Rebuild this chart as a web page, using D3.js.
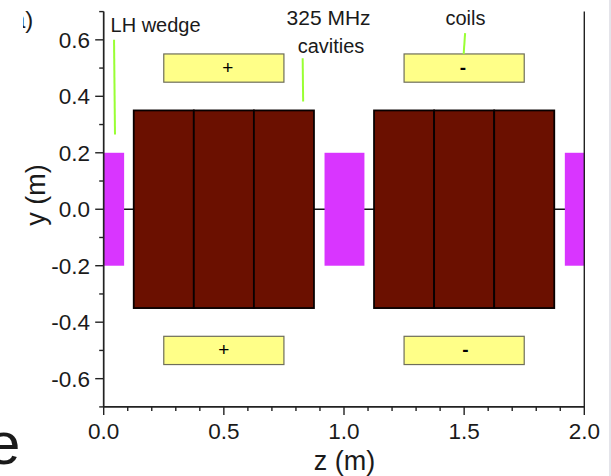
<!DOCTYPE html>
<html><head><meta charset="utf-8">
<script src="https://cdn.jsdelivr.net/npm/d3@7"></script>
<style>html,body{margin:0;padding:0;background:#fff;overflow:hidden}svg{display:block}text{font-family:"Liberation Sans",Arial,sans-serif;fill:#1a1a1a}</style>
</head><body><svg id="c" width="611" height="476"></svg>
<script>
const wedgeStart=[0,0.919,1.919], wedgeEnd=[0.085,1.085,2.0], wedgeHalfHeight=0.2;
const cavityStart=[0.125,0.375,0.625,1.125,1.375,1.625], cavityEnd=[0.375,0.625,0.875,1.375,1.625,1.875], cavityHalfHeight=0.35;
const coilStart=[0.25,1.25,0.25,1.25], coilEnd=[0.75,1.75,0.75,1.75], coilLow=[0.45,0.45,-0.55,-0.55], coilHigh=[0.55,0.55,-0.45,-0.45];
const coilSigns=["+","-","+","-"], coilSignZ=[0.516,1.495,0.5,1.505], coilSignY=[0.5,0.5,-0.5,-0.5];
const leaderZ1=[0.043,0.828,1.504], leaderZ2=[0.047,0.83,1.498], leaderY1=[0.6,0.535,0.624], leaderY2=[0.265,0.382,0.55];
const annotations=["LH wedge","325 MHz","cavities","coils"], annotationZ=[0.2158,0.9358,0.946,1.5055], annotationY=[0.626,0.651,0.555,0.651], annotationSize=[20,21,20,20];
const zTicks=[0,0.5,1,1.5,2], yTicks=[-0.6,-0.4,-0.2,0,0.2,0.4,0.6];
const zMinor=d3.range(0,21).map(i=>i/10), yMinor=d3.range(-7,8).map(i=>i/10);

const svg=d3.select("#c");
const x=d3.scaleLinear().domain([0,2]).range([103.7,584.3]);
const y=d3.scaleLinear().domain([-0.7,0.7]).range([406.9,11.6]);
const axisCol="#222";

svg.append("defs").append("clipPath").attr("id","tl").append("rect").attr("x",23).attr("y",0).attr("width",30).attr("height",50);
svg.append("rect").attr("x",609).attr("y",0).attr("width",2).attr("height",476).attr("fill","#e4e4ea");

// glyphs cropped at the edge in the source image
svg.append("text").attr("clip-path","url(#tl)").attr("x",12).attr("y",28).attr("font-size",24).text("a)");
svg.append("text").attr("x",-13).attr("y",464).attr("font-size",60).text("e");

svg.append("line").attr("x1",x(0)).attr("x2",x(2)).attr("y1",y(0)).attr("y2",y(0)).attr("stroke","#111").attr("stroke-width",1.6);

svg.selectAll(".w").data(wedgeStart).join("rect").attr("class","w")
 .attr("x",d=>x(d)).attr("width",(d,i)=>x(wedgeEnd[i])-x(d))
 .attr("y",y(wedgeHalfHeight)).attr("height",y(-wedgeHalfHeight)-y(wedgeHalfHeight)).attr("fill","#d935ff");

svg.selectAll(".cv").data(cavityStart).join("rect").attr("class","cv")
 .attr("x",d=>x(d)).attr("width",(d,i)=>x(cavityEnd[i])-x(d))
 .attr("y",y(cavityHalfHeight)).attr("height",y(-cavityHalfHeight)-y(cavityHalfHeight))
 .attr("fill","#6b1000").attr("stroke","#080000").attr("stroke-width",1.8);

svg.selectAll(".cl").data(coilStart).join("rect").attr("class","cl")
 .attr("x",d=>x(d)).attr("width",(d,i)=>x(coilEnd[i])-x(d))
 .attr("y",(d,i)=>y(coilHigh[i])).attr("height",(d,i)=>y(coilLow[i])-y(coilHigh[i]))
 .attr("fill","#ffff88").attr("stroke","#6e6e5a").attr("stroke-width",1.2);
svg.selectAll(".sg").data(coilSigns).join("text").attr("class","sg")
 .attr("x",(d,i)=>x(coilSignZ[i])).attr("y",(d,i)=>y(coilSignY[i])+6)
 .attr("text-anchor","middle").attr("font-size",19).attr("font-weight",d=>d=="-"?"bold":"normal").style("fill","#000").text(d=>d);

svg.selectAll(".ld").data(leaderZ1).join("line").attr("class","ld")
 .attr("x1",d=>x(d)).attr("x2",(d,i)=>x(leaderZ2[i]))
 .attr("y1",(d,i)=>y(leaderY1[i])).attr("y2",(d,i)=>y(leaderY2[i]))
 .attr("stroke","#99ff33").attr("stroke-width",2);

svg.selectAll(".an").data(annotations).join("text").attr("class","an")
 .attr("x",(d,i)=>x(annotationZ[i])).attr("y",(d,i)=>y(annotationY[i]))
 .attr("text-anchor","middle").attr("font-size",(d,i)=>annotationSize[i]).text(d=>d);

const bottom=svg.append("g");
bottom.append("line").attr("x1",x(0)).attr("x2",x(2)).attr("y1",y(-0.7)).attr("y2",y(-0.7)).attr("stroke",axisCol).attr("stroke-width",1.7);
bottom.selectAll(".mt").data(zMinor).join("line").attr("class","mt").attr("x1",d=>x(d)).attr("x2",d=>x(d))
 .attr("y1",y(-0.7)).attr("y2",d=>y(-0.7)+(zTicks.some(t=>Math.abs(t-d)<1e-6)?8:4)).attr("stroke",axisCol).attr("stroke-width",1.4);
bottom.selectAll(".tl").data(zTicks).join("text").attr("class","tl").attr("x",d=>x(d)).attr("y",439)
 .attr("text-anchor","middle").attr("font-size",22.5).text(d=>d.toFixed(1));

const left=svg.append("g");
left.append("line").attr("x1",x(0)).attr("x2",x(0)).attr("y1",y(0.7)).attr("y2",y(-0.7)).attr("stroke",axisCol).attr("stroke-width",1.7);
left.selectAll(".mt").data(yMinor).join("line").attr("class","mt").attr("y1",d=>y(d)).attr("y2",d=>y(d))
 .attr("x1",x(0)).attr("x2",d=>x(0)-(yTicks.some(t=>Math.abs(t-d)<1e-6)?8.5:4.5)).attr("stroke",axisCol).attr("stroke-width",1.4);
left.selectAll(".tl").data(yTicks).join("text").attr("class","tl").attr("x",90).attr("y",d=>y(d)+8)
 .attr("text-anchor","end").attr("font-size",22.5).text(d=>d.toFixed(1));

svg.append("line").attr("x1",x(2)).attr("x2",x(2)).attr("y1",y(0.7)).attr("y2",y(-0.7)).attr("stroke",axisCol).attr("stroke-width",1.4);

svg.append("text").attr("x",344.5).attr("y",470).attr("text-anchor","middle").attr("font-size",27).text("z (m)");
svg.append("text").attr("transform","translate(45,195) rotate(-90)").attr("text-anchor","middle").attr("font-size",27).text("y (m)");
</script></body></html>
